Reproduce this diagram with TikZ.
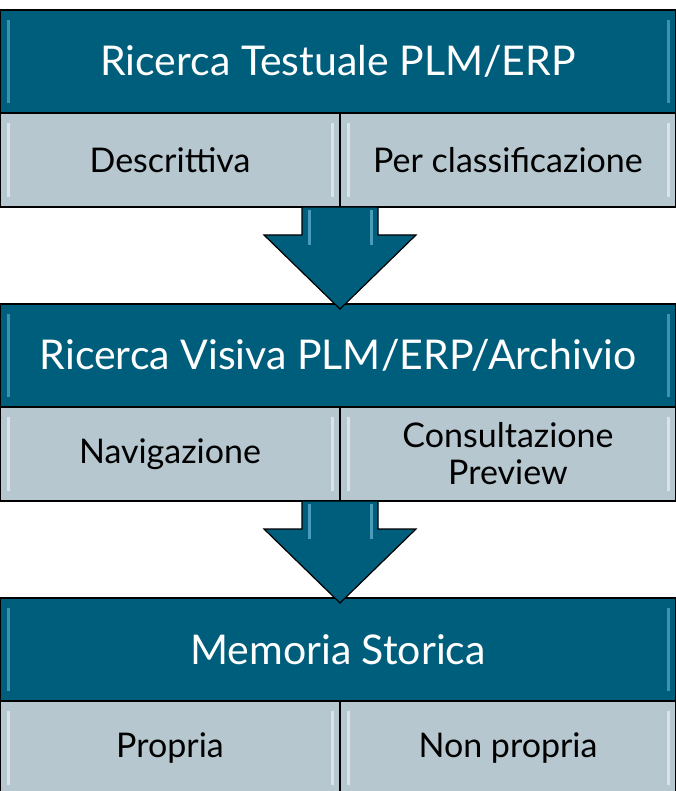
\documentclass[tikz,border=0pt]{standalone}
\usepackage{fontspec}
\setmainfont{Lato}
\usetikzlibrary{positioning,calc}
\definecolor{headblue}{HTML}{005E7D}
\definecolor{subgray}{HTML}{B6C7CF}
\definecolor{glowblue}{HTML}{7CC6E4}
\tikzset{
  bevel/.style={path picture={
    \draw[#1, line width=3pt, opacity=.5]
      ([xshift=8pt,yshift=-10pt]path picture bounding box.north west) -- ([xshift=8pt,yshift=10pt]path picture bounding box.south west)
      ([xshift=-8pt,yshift=-10pt]path picture bounding box.north east) -- ([xshift=-8pt,yshift=10pt]path picture bounding box.south east);}},
  header/.style={draw=black, line width=1.5pt, fill=headblue, text=white, bevel=glowblue,
    minimum width=676pt, minimum height=103pt, inner sep=0pt, outer sep=0pt,
    font=\fontsize{41}{46}\selectfont, anchor=north west},
  subbox/.style={draw=black, line width=1.5pt, fill=subgray, text=black, bevel=white,
    minimum height=94pt, inner sep=0pt, outer sep=0pt, align=center,
    font=\fontsize{34}{37}\selectfont, anchor=north west},
  downarrow/.style={draw=black, line width=1.2pt, fill=headblue, line join=miter},
}
% big arrow from the sub row (#1) down into the next header (#2)
\newcommand{\flowarrow}[2]{%
  \draw[downarrow] let \p1=(#1), \p2=(#2) in
    (\x1-38pt,\y1) -- (\x1+38pt,\y1) -- (\x1+38pt,\y1-28pt) -- (\x1+76pt,\y1-28pt)
    -- (\x1,\y2-5pt) -- (\x1-76pt,\y1-28pt) -- (\x1-38pt,\y1-28pt) -- cycle;
  \draw[glowblue, line width=3pt, opacity=.6] let \p1=(#1) in
    (\x1-31pt,\y1-3pt) -- (\x1-31pt,\y1-38pt)
    (\x1+31pt,\y1-3pt) -- (\x1+31pt,\y1-38pt);}
\begin{document}
\begin{tikzpicture}
  \useasboundingbox (0,0) rectangle (676pt,-791pt);
  % Ricerca testuale
  \node[header] (testuale) at (0,-10pt) {Ricerca Testuale PLM/ERP};
  \node[subbox, minimum width=340pt] (descrittiva) at (testuale.south west) {Descrittiva};
  \node[subbox, minimum width=336pt] (classificazione) at (descrittiva.north east) {Per classificazione};
  % Ricerca visiva
  \node[header] (visiva) at ([yshift=-97pt]descrittiva.south west) {Ricerca Visiva PLM/ERP/Archivio};
  \node[subbox, minimum width=340pt] (navigazione) at (visiva.south west) {Navigazione};
  \node[subbox, minimum width=336pt] (consultazione) at (navigazione.north east) {Consultazione\\Preview};
  % Memoria storica
  \node[header] (memoria) at ([yshift=-97pt]navigazione.south west) {Memoria Storica};
  \node[subbox, minimum width=340pt] (propria) at (memoria.south west) {Propria};
  \node[subbox, minimum width=336pt] (nonpropria) at (propria.north east) {Non propria};
  % Arrows
  \flowarrow{descrittiva.south east}{visiva.north}
  \flowarrow{navigazione.south east}{memoria.north}
\end{tikzpicture}
\end{document}
